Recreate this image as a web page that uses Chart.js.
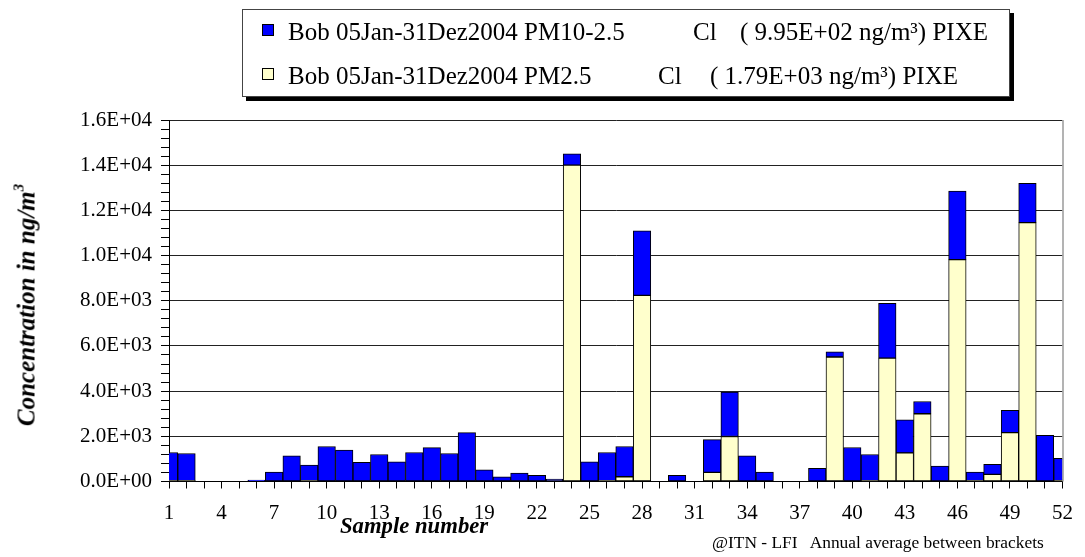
<!DOCTYPE html>
<html>
<head>
<meta charset="utf-8">
<script src="https://cdn.jsdelivr.net/npm/chart.js@4.4.1/dist/chart.umd.min.js"></script>
<style>
    body { margin: 0; background: #fff; }
    #wrap { position: relative; width: 1085px; height: 557px; font-family: 'Liberation Serif', 'Times New Roman', serif; }
    #chart { position: absolute; left: 0; top: 0; }
    .txt { position: absolute; white-space: pre; color: #000; line-height: 1; }
    #legend { position: absolute; left: 242px; top: 9px; width: 766px; height: 86px; border: 1px solid #444; background: #fff; box-shadow: 4px 4px 0 #000; }
    .swatch { position: absolute; width: 10px; height: 10px; border: 1px solid #000; }
    .leg { font-size: 25px; }
    .ytitle { font-size: 25px; font-weight: bold; font-style: italic; transform: translate(-50%, -50%) rotate(-90deg); }
    .ytitle sup { font-size: 15px; vertical-align: 11px; }
</style>
</head>
<body>
<div id="wrap">
    <canvas id="chart" width="1085" height="557"></canvas>
    <div id="legend"></div>
    <div class="txt ytitle" style="left:25px; top:305px;">Concentration in ng/m<sup>3</sup></div>
    <div class="txt" style="left:340px; top:515px; font-size:22.7px; font-weight:bold; font-style:italic;">Sample number</div>
    <div class="txt" style="left:712px; top:534px; font-size:17.4px;">@ITN - LFI   Annual average between brackets</div>
</div>
<script>
// --- Data ---
const samples = Array.from({ length: 52 }, (_, i) => String(i + 1));

const pm25 = [40, 40, null, null, null, 0, 0, 0, 40, 0,
    0, 0, 0, 0, 0, 0, 0, 0, 0, 0,
    0, 0, 0, 14000, 0, 40, 210, 8240, null, 0,
    null, 405, 1990, 0, 0, null, null, 0, 5510, 0,
    40, 5460, 1270, 3000, 0, 9820, 40, 315, 2160, 11460,
    0, 40];

const pm10_25 = [1245, 1200, null, null, null, 60, 418, 1135, 686, 1549,
    1386, 845, 1197, 871, 1285, 1496, 1240, 2165, 519, 211,
    374, 273, 110, 500, 871, 1245, 1339, 2860, null, 273,
    null, 1445, 1963, 1137, 420, null, null, 579, 232, 1504,
    1156, 2426, 1465, 542, 682, 3035, 378, 440, 986, 1733,
    2046, 980];

const seriesNames = ['Bob 05Jan-31Dez2004 PM10-2.5', 'Bob 05Jan-31Dez2004 PM2.5'];
const seriesColors = ['#0000ff', '#ffffcc'];
const element = 'Cl';
const annualAvg = ['9.95E+02', '1.79E+03'];

const yMax = 16000;
const yMajor = 2000;
const yMinor = 400;

// --- Legend (HTML box with shadow) ---
const legend = document.getElementById('legend');
const legRows = [
    { top: 9, clX: 450, avgX: 497 },
    { top: 53, clX: 415, avgX: 467 }
];
seriesNames.forEach((name, i) => {
    const r = legRows[i];
    legend.insertAdjacentHTML('beforeend',
        `<div class="swatch" style="left:19px; top:${r.top + 5}px; background:${seriesColors[i]}"></div>` +
        `<div class="txt leg" style="left:45px; top:${r.top}px;">${name}</div>` +
        `<div class="txt leg" style="left:${r.clX}px; top:${r.top}px;">${element}</div>` +
        `<div class="txt leg" style="left:${r.avgX}px; top:${r.top}px;">( ${annualAvg[i]} ng/m³) PIXE</div>`);
});

// Format like 1.6E+04
function sci(v) {
    const [m, e] = v.toExponential(1).split('e');
    const n = parseInt(e, 10);
    return m + 'E' + (n < 0 ? '-' : '+') + String(Math.abs(n)).padStart(2, '0');
}

// Right edge of the plot frame
const frame = {
    id: 'frame',
    afterDatasetsDraw(chart) {
        const { ctx, chartArea: a } = chart;
        ctx.save();
        ctx.strokeStyle = '#9a9a9a';
        ctx.lineWidth = 1.5;
        ctx.beginPath();
        ctx.moveTo(a.right + 0.5, a.top);
        ctx.lineTo(a.right + 0.5, a.bottom);
        ctx.stroke();
        ctx.restore();
    }
};

const tickFont = { family: "'Liberation Serif', 'Times New Roman', serif", size: 21 };

new Chart(document.getElementById('chart'), {
    type: 'bar',
    data: {
        labels: samples,
        datasets: [
            {
                label: seriesNames[1],
                data: pm25,
                backgroundColor: seriesColors[1],
                borderColor: '#000',
                borderWidth: 1,
                borderSkipped: false,
                barPercentage: 1,
                categoryPercentage: 1,
                clip: 0
            },
            {
                label: seriesNames[0],
                data: pm10_25,
                backgroundColor: seriesColors[0],
                borderColor: '#000',
                borderWidth: 1,
                borderSkipped: false,
                barPercentage: 1,
                categoryPercentage: 1,
                clip: 0
            }
        ]
    },
    options: {
        responsive: false,
        animation: false,
        layout: { padding: { left: 0, right: 12, top: 120, bottom: 0 } },
        plugins: { legend: { display: false }, tooltip: { enabled: false } },
        scales: {
            x: {
                stacked: true,
                offset: false,
                grid: { offset: false, drawOnChartArea: false, color: '#000', tickLength: 7 },
                border: { color: '#000', width: 1 },
                ticks: {
                    autoSkip: false,
                    maxRotation: 0,
                    padding: 12,
                    color: '#000',
                    font: tickFont,
                    callback: (v, i) => (i % 3 === 0 ? samples[i] : '')
                },
                afterFit: (s) => { s.height = 557 - 481.5; }
            },
            y: {
                stacked: true,
                min: 0,
                max: yMax,
                grid: {
                    color: (c) => (c.tick && c.tick.value % yMajor === 0 ? '#222' : 'rgba(0,0,0,0)'),
                    tickColor: '#000',
                    tickLength: 8
                },
                border: { color: '#000', width: 1 },
                ticks: {
                    stepSize: yMinor,
                    autoSkip: false,
                    padding: 9,
                    color: '#000',
                    font: tickFont,
                    callback: (v) => (v % yMajor === 0 ? sci(v) : '')
                },
                afterFit: (s) => { s.width = 169; }
            }
        }
    },
    plugins: [frame]
});
</script>
</body>
</html>
